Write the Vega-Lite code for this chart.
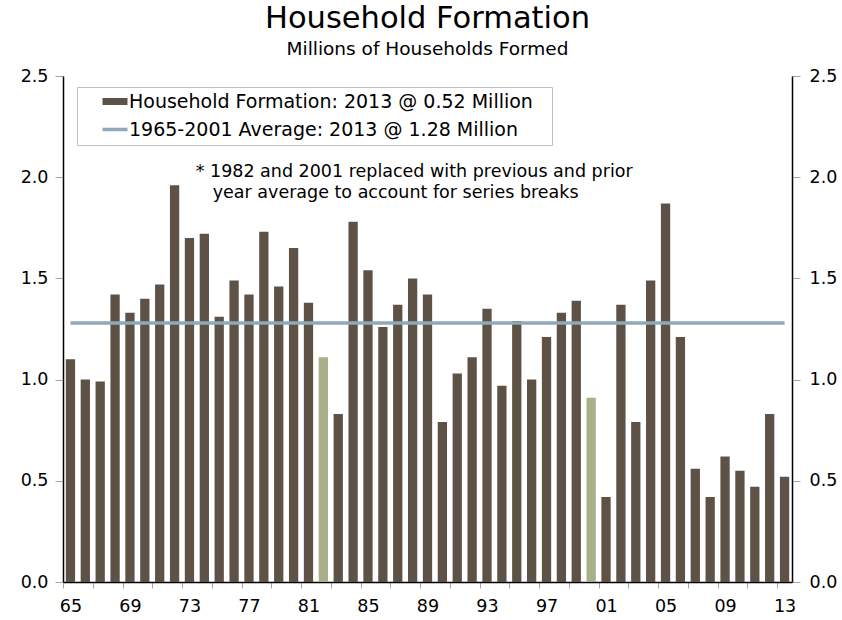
{
  "$schema": "https://vega.github.io/schema/vega-lite/v6.json",
  "width": 729,
  "height": 506,
  "autosize": {"type": "none"},
  "padding": {"left": 63, "top": 76, "right": 50, "bottom": 38},
  "background": "white",
  "config": {"font": "DejaVu Sans", "view": {"stroke": null}},
  "title": {
    "text": "Household Formation",
    "subtitle": "Millions of Households Formed",
    "anchor": "middle",
    "font": "DejaVu Sans",
    "fontSize": 30.5,
    "fontWeight": "normal",
    "color": "black",
    "subtitleFont": "DejaVu Sans",
    "subtitleFontSize": 18.5,
    "subtitleColor": "black",
    "subtitlePadding": 5,
    "offset": 9
  },
  "datasets": {
    "hh": [
      {"year": 1965, "value": 1.10, "series": "hf"},
      {"year": 1966, "value": 1.00, "series": "hf"},
      {"year": 1967, "value": 0.99, "series": "hf"},
      {"year": 1968, "value": 1.42, "series": "hf"},
      {"year": 1969, "value": 1.33, "series": "hf"},
      {"year": 1970, "value": 1.40, "series": "hf"},
      {"year": 1971, "value": 1.47, "series": "hf"},
      {"year": 1972, "value": 1.96, "series": "hf"},
      {"year": 1973, "value": 1.70, "series": "hf"},
      {"year": 1974, "value": 1.72, "series": "hf"},
      {"year": 1975, "value": 1.31, "series": "hf"},
      {"year": 1976, "value": 1.49, "series": "hf"},
      {"year": 1977, "value": 1.42, "series": "hf"},
      {"year": 1978, "value": 1.73, "series": "hf"},
      {"year": 1979, "value": 1.46, "series": "hf"},
      {"year": 1980, "value": 1.65, "series": "hf"},
      {"year": 1981, "value": 1.38, "series": "hf"},
      {"year": 1982, "value": 1.11, "series": "adj"},
      {"year": 1983, "value": 0.83, "series": "hf"},
      {"year": 1984, "value": 1.78, "series": "hf"},
      {"year": 1985, "value": 1.54, "series": "hf"},
      {"year": 1986, "value": 1.26, "series": "hf"},
      {"year": 1987, "value": 1.37, "series": "hf"},
      {"year": 1988, "value": 1.50, "series": "hf"},
      {"year": 1989, "value": 1.42, "series": "hf"},
      {"year": 1990, "value": 0.79, "series": "hf"},
      {"year": 1991, "value": 1.03, "series": "hf"},
      {"year": 1992, "value": 1.11, "series": "hf"},
      {"year": 1993, "value": 1.35, "series": "hf"},
      {"year": 1994, "value": 0.97, "series": "hf"},
      {"year": 1995, "value": 1.29, "series": "hf"},
      {"year": 1996, "value": 1.00, "series": "hf"},
      {"year": 1997, "value": 1.21, "series": "hf"},
      {"year": 1998, "value": 1.33, "series": "hf"},
      {"year": 1999, "value": 1.39, "series": "hf"},
      {"year": 2000, "value": 0.91, "series": "adj"},
      {"year": 2001, "value": 0.42, "series": "hf"},
      {"year": 2002, "value": 1.37, "series": "hf"},
      {"year": 2003, "value": 0.79, "series": "hf"},
      {"year": 2004, "value": 1.49, "series": "hf"},
      {"year": 2005, "value": 1.87, "series": "hf"},
      {"year": 2006, "value": 1.21, "series": "hf"},
      {"year": 2007, "value": 0.56, "series": "hf"},
      {"year": 2008, "value": 0.42, "series": "hf"},
      {"year": 2009, "value": 0.62, "series": "hf"},
      {"year": 2010, "value": 0.55, "series": "hf"},
      {"year": 2011, "value": 0.47, "series": "hf"},
      {"year": 2012, "value": 0.83, "series": "hf"},
      {"year": 2013, "value": 0.52, "series": "hf"}
    ],
    "avg": [{"start": 1965, "end": 2013, "avg": 1.28, "series": "avg"}],
    "note1": [{"note": "* 1982 and 2001 replaced with previous and prior"}],
    "note2": [{"note": "year average to account for series breaks"}]
  },
  "layer": [
    {
      "data": {"name": "hh"},
      "mark": {"type": "bar"},
      "encoding": {
        "x": {
          "field": "year",
          "type": "ordinal",
          "scale": {"paddingInner": 0.376, "paddingOuter": 0.188},
          "axis": {
            "title": null,
            "orient": "bottom",
            "values": [1965, 1967, 1969, 1971, 1973, 1975, 1977, 1979, 1981, 1983, 1985, 1987, 1989, 1991, 1993, 1995, 1997, 1999, 2001, 2003, 2005, 2007, 2009, 2011, 2013],
            "tickOffset": -7.44,
            "labelOffset": 7.44,
            "labelExpr": "datum.value % 4 == 1 ? slice(datum.label, 2) : ''",
            "labelAngle": 0,
            "labelFontSize": 17.5,
            "labelColor": "black",
            "labelPadding": 9,
            "labelOverlap": false,
            "labelBound": false,
            "domainColor": "black",
            "domainWidth": 1.5,
            "tickColor": "#A6A6A6",
            "tickSize": 6,
            "tickWidth": 1,
            "grid": false
          }
        },
        "y": {
          "field": "value",
          "type": "quantitative",
          "scale": {"domain": [0, 2.5], "nice": false},
          "axis": {
            "title": null,
            "orient": "left",
            "values": [0, 0.5, 1, 1.5, 2, 2.5],
            "format": ".1f",
            "grid": false,
            "domainColor": "black",
            "domainWidth": 1.5,
            "tickColor": "#A6A6A6",
            "tickSize": 8,
            "labelFontSize": 17.5,
            "labelColor": "black",
            "labelPadding": 7
          }
        },
        "color": {
          "field": "series",
          "type": "nominal",
          "scale": {"domain": ["hf", "avg", "adj"], "range": ["#5E5246", "#8FA9B9", "#A9AF88"]},
          "legend": {
            "orient": "none",
            "legendX": 14,
            "legendY": 11,
            "title": null,
            "values": ["hf", "avg"],
            "labelExpr": "(datum.value == 'hf' ? 'Household Formation: 2013 @ 0.52 Million' : '1965-2001 Average: 2013 @ 1.28 Million') + '\u2800'",
            "labelFontSize": 19,
            "labelColor": "black",
            "labelLimit": 900,
            "labelOffset": 4.5,
            "symbolSize": 100,
            "symbolOffset": 23.5,
            "padding": 5,
            "rowPadding": 8,
            "strokeColor": "#BFBFBF",
            "fillColor": "white",
            "encode": {
              "symbols": {
                "update": {
                  "shape": {"signal": "datum.value == 'hf' ? 'M-2.5,-0.7H2.5V0.7H-2.5Z' : 'M-2.5,-0.35H2.5V0.35H-2.5Z'"},
                  "fill": {"scale": "color", "field": "value"},
                  "stroke": {"value": "transparent"},
                  "strokeWidth": {"value": 0},
                  "opacity": {"value": 1},
                  "fillOpacity": {"value": 1}
                }
              }
            }
          }
        }
      }
    },
    {
      "data": {"name": "avg"},
      "mark": {"type": "rule", "strokeWidth": 3.5},
      "encoding": {
        "x": {"field": "start", "type": "ordinal"},
        "x2": {"field": "end"},
        "y": {
          "field": "avg",
          "type": "quantitative",
          "axis": {
            "title": null,
            "orient": "right",
            "values": [0, 0.5, 1, 1.5, 2, 2.5],
            "format": ".1f",
            "grid": false,
            "domainColor": "black",
            "domainWidth": 1.5,
            "tickColor": "#A6A6A6",
            "tickSize": 8,
            "labelFontSize": 17.5,
            "labelColor": "black",
            "labelPadding": 9
          }
        },
        "color": {"field": "series", "type": "nominal"}
      }
    },
    {
      "data": {"name": "note1"},
      "mark": {"type": "text", "align": "left", "baseline": "alphabetic", "fontSize": 17.5, "color": "black", "dx": -4},
      "encoding": {
        "x": {"datum": 1974, "type": "ordinal", "bandPosition": 0},
        "y": {"datum": 2.0, "type": "quantitative", "axis": null},
        "text": {"field": "note"}
      }
    },
    {
      "data": {"name": "note2"},
      "mark": {"type": "text", "align": "left", "baseline": "alphabetic", "fontSize": 17.5, "color": "black", "dx": 13, "dy": 21},
      "encoding": {
        "x": {"datum": 1974, "type": "ordinal", "bandPosition": 0},
        "y": {"datum": 2.0, "type": "quantitative", "axis": null},
        "text": {"field": "note"}
      }
    }
  ],
  "resolve": {"axis": {"y": "independent"}}
}
